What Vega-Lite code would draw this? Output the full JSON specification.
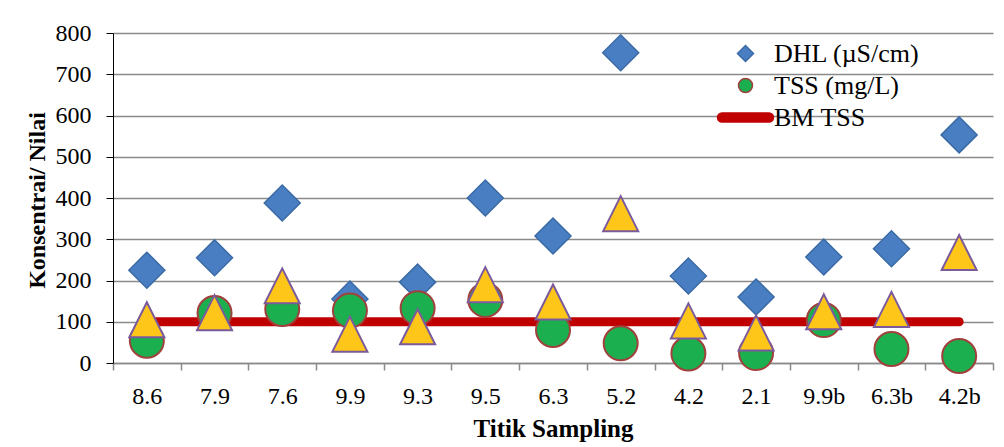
{
  "$schema": "https://vega.github.io/schema/vega-lite/v6.json",
  "width": 880,
  "height": 330,
  "autosize": {"type": "none"},
  "padding": {"left": 113, "top": 33, "right": 11, "bottom": 84},
  "background": "white",
  "config": {
    "view": {"stroke": null},
    "font": "Liberation Serif",
    "axis": {"labelColor": "#000", "titleColor": "#000", "labelFont": "Liberation Serif", "titleFont": "Liberation Serif"},
    "legend": {
      "title": null,
      "orient": "none",
      "legendX": 615,
      "legendY": 3,
      "labelFontSize": 26,
      "labelFont": "Liberation Serif",
      "labelColor": "#000",
      "labelLimit": 400,
      "symbolSize": 1089,
      "symbolStrokeWidth": 1.5,
      "labelOffset": 11,
      "rowPadding": 1,
      "padding": 0
    }
  },
  "data": {
    "values": [
      {"site": "8.6", "series": "DHL (µS/cm)", "value": 225},
      {"site": "7.9", "series": "DHL (µS/cm)", "value": 255},
      {"site": "7.6", "series": "DHL (µS/cm)", "value": 388},
      {"site": "9.9", "series": "DHL (µS/cm)", "value": 155},
      {"site": "9.3", "series": "DHL (µS/cm)", "value": 196},
      {"site": "9.5", "series": "DHL (µS/cm)", "value": 400},
      {"site": "6.3", "series": "DHL (µS/cm)", "value": 308},
      {"site": "5.2", "series": "DHL (µS/cm)", "value": 752},
      {"site": "4.2", "series": "DHL (µS/cm)", "value": 211},
      {"site": "2.1", "series": "DHL (µS/cm)", "value": 160},
      {"site": "9.9b", "series": "DHL (µS/cm)", "value": 257},
      {"site": "6.3b", "series": "DHL (µS/cm)", "value": 277},
      {"site": "4.2b", "series": "DHL (µS/cm)", "value": 553},
      {"site": "8.6", "series": "TSS (mg/L)", "value": 54},
      {"site": "7.9", "series": "TSS (mg/L)", "value": 121},
      {"site": "7.6", "series": "TSS (mg/L)", "value": 131},
      {"site": "9.9", "series": "TSS (mg/L)", "value": 127},
      {"site": "9.3", "series": "TSS (mg/L)", "value": 133},
      {"site": "9.5", "series": "TSS (mg/L)", "value": 153},
      {"site": "6.3", "series": "TSS (mg/L)", "value": 80},
      {"site": "5.2", "series": "TSS (mg/L)", "value": 48},
      {"site": "4.2", "series": "TSS (mg/L)", "value": 23},
      {"site": "2.1", "series": "TSS (mg/L)", "value": 24},
      {"site": "9.9b", "series": "TSS (mg/L)", "value": 104},
      {"site": "6.3b", "series": "TSS (mg/L)", "value": 34},
      {"site": "4.2b", "series": "TSS (mg/L)", "value": 17},
      {"site": "8.6", "series": "Seri 3", "value": 105},
      {"site": "7.9", "series": "Seri 3", "value": 122},
      {"site": "7.6", "series": "Seri 3", "value": 187},
      {"site": "9.9", "series": "Seri 3", "value": 70},
      {"site": "9.3", "series": "Seri 3", "value": 88},
      {"site": "9.5", "series": "Seri 3", "value": 190},
      {"site": "6.3", "series": "Seri 3", "value": 148},
      {"site": "5.2", "series": "Seri 3", "value": 362},
      {"site": "4.2", "series": "Seri 3", "value": 102},
      {"site": "2.1", "series": "Seri 3", "value": 73},
      {"site": "9.9b", "series": "Seri 3", "value": 124},
      {"site": "6.3b", "series": "Seri 3", "value": 130},
      {"site": "4.2b", "series": "Seri 3", "value": 268},
      {"site": "8.6", "series": "BM TSS", "value": 100},
      {"site": "7.9", "series": "BM TSS", "value": 100},
      {"site": "7.6", "series": "BM TSS", "value": 100},
      {"site": "9.9", "series": "BM TSS", "value": 100},
      {"site": "9.3", "series": "BM TSS", "value": 100},
      {"site": "9.5", "series": "BM TSS", "value": 100},
      {"site": "6.3", "series": "BM TSS", "value": 100},
      {"site": "5.2", "series": "BM TSS", "value": 100},
      {"site": "4.2", "series": "BM TSS", "value": 100},
      {"site": "2.1", "series": "BM TSS", "value": 100},
      {"site": "9.9b", "series": "BM TSS", "value": 100},
      {"site": "6.3b", "series": "BM TSS", "value": 100},
      {"site": "4.2b", "series": "BM TSS", "value": 100}
    ]
  },
  "encoding": {
    "x": {
      "field": "site",
      "type": "nominal",
      "sort": ["8.6", "7.9", "7.6", "9.9", "9.3", "9.5", "6.3", "5.2", "4.2", "2.1", "9.9b", "6.3b", "4.2b"],
      "scale": {"type": "band", "paddingInner": 0, "paddingOuter": 0},
      "axis": {
        "title": "Titik Sampling",
        "labelAngle": 0,
        "tickBand": "extent",
        "tickSize": 7,
        "labelPadding": 14,
        "labelFontSize": 24,
        "domainColor": "#8a8a8a",
        "domainWidth": 1.5,
        "tickColor": "#8a8a8a",
        "tickWidth": 1.5,
        "titleFontSize": 25,
        "titleFontWeight": "bold",
        "titleBaseline": "alphabetic",
        "titleY": 73,
        "grid": false
      }
    },
    "y": {
      "field": "value",
      "type": "quantitative",
      "scale": {"domain": [0, 800], "nice": false},
      "axis": {
        "title": "Konsentrai/ Nilai",
        "values": [0, 100, 200, 300, 400, 500, 600, 700, 800],
        "tickSize": 7,
        "labelPadding": 15,
        "labelFontSize": 24,
        "domainColor": "#000",
        "tickColor": "#000",
        "gridColor": "#8a8a8a",
        "gridWidth": 1.5,
        "titleFontSize": 24,
        "titleFontWeight": "bold",
        "titleX": -69,
        "titleY": 167,
        "titleBaseline": "alphabetic",
        "titleAlign": "center"
      }
    }
  },
  "layer": [
    {
      "transform": [{"filter": "datum.series === 'BM TSS'"}],
      "mark": {"type": "line", "color": "#C00000", "strokeWidth": 9, "strokeCap": "round"},
      "encoding": {}
    },
    {
      "encoding": {
        "shape": {
          "field": "series",
          "type": "nominal",
          "scale": {
            "domain": ["DHL (µS/cm)", "TSS (mg/L)", "BM TSS", "Seri 3"],
            "range": [
              "M-0.485,0L0,-0.485L0.485,0L0,0.485Z",
              "M-0.424,0A0.424,0.424 0 1,0 0.424,0A0.424,0.424 0 1,0 -0.424,0Z",
              "M-1.424,-0.273L1.424,-0.273A0.273,0.273 0 0,1 1.424,0.273L-1.424,0.273A0.273,0.273 0 0,1 -1.424,-0.273Z",
              "M0,-1L-1,1L1,1Z"
            ]
          },
          "legend": {"values": ["DHL (µS/cm)", "TSS (mg/L)", "BM TSS"]}
        },
        "fill": {
          "field": "series",
          "type": "nominal",
          "scale": {"domain": ["DHL (µS/cm)", "TSS (mg/L)", "BM TSS", "Seri 3"], "range": ["#4A7EC2", "#1CAF4F", "#C00000", "#FFC61A"]},
          "legend": {"values": ["DHL (µS/cm)", "TSS (mg/L)", "BM TSS"]}
        },
        "stroke": {
          "field": "series",
          "type": "nominal",
          "scale": {"domain": ["DHL (µS/cm)", "TSS (mg/L)", "BM TSS", "Seri 3"], "range": ["#3A6BA6", "#A0413D", "#C00000", "#7A5A9C"]},
          "legend": {"values": ["DHL (µS/cm)", "TSS (mg/L)", "BM TSS"]}
        }
      },
      "layer": [
        {
          "transform": [{"filter": "datum.series === 'DHL (µS/cm)'"}],
          "mark": {"type": "point", "filled": true, "size": 5510, "strokeWidth": 1.5, "opacity": 1}
        },
        {
          "transform": [{"filter": "datum.series === 'TSS (mg/L)'"}],
          "mark": {"type": "point", "filled": true, "size": 6430, "strokeWidth": 2, "opacity": 1}
        },
        {
          "transform": [{"filter": "datum.series === 'Seri 3'"}],
          "mark": {"type": "point", "filled": true, "size": 1225, "strokeWidth": 2, "opacity": 1}
        }
      ]
    }
  ]
}
